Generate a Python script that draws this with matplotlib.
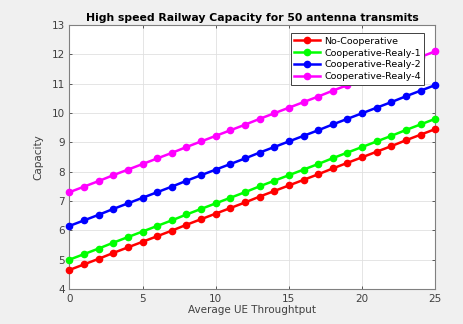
import matplotlib
matplotlib.use("Agg")
import matplotlib.pyplot as plt

x = list(range(26))
no_coop = [4.65, 4.84, 5.03, 5.23, 5.42, 5.61, 5.80, 5.99, 6.19, 6.38, 6.57, 6.76, 6.95,
           7.15, 7.34, 7.53, 7.72, 7.91, 8.11, 8.30, 8.49, 8.68, 8.87, 9.07, 9.26, 9.45]
relay1 = [5.00, 5.19, 5.38, 5.58, 5.77, 5.96, 6.15, 6.34, 6.54, 6.73, 6.92, 7.11, 7.30,
          7.50, 7.69, 7.88, 8.07, 8.26, 8.46, 8.65, 8.84, 9.03, 9.22, 9.42, 9.61, 9.80]
relay2 = [6.15, 6.34, 6.53, 6.73, 6.92, 7.11, 7.30, 7.49, 7.69, 7.88, 8.07, 8.26, 8.45,
          8.65, 8.84, 9.03, 9.22, 9.41, 9.61, 9.80, 9.99, 10.18, 10.37, 10.57, 10.76, 10.95]
relay4 = [7.30, 7.49, 7.68, 7.88, 8.07, 8.26, 8.45, 8.64, 8.84, 9.03, 9.22, 9.41, 9.60,
          9.80, 9.99, 10.18, 10.37, 10.56, 10.76, 10.95, 11.14, 11.33, 11.52, 11.72, 11.91, 12.10]
labels = ["No-Cooperative", "Cooperative-Realy-1", "Cooperative-Realy-2", "Cooperative-Realy-4"]
colors = ["#ff0000", "#00ff00", "#0000ff", "#ff00ff"]
xticks = [0, 5, 10, 15, 20, 25]
yticks = [4, 5, 6, 7, 8, 9, 10, 11, 12, 13]

fig = plt.figure(figsize=(4.63, 3.24), dpi=100, facecolor="#f0f0f0")
ax = fig.add_axes([0.150, 0.108, 0.790, 0.815])
ax.set_facecolor("white")

for ys, lab, c in zip([no_coop, relay1, relay2, relay4], labels, colors):
    ax.plot(x, ys, color=c, marker="o", markersize=4.5, linewidth=1.8, label=lab, clip_on=False, zorder=3)

ax.set_xlim(0, 25)
ax.set_ylim(4, 13)
ax.set_xticks(xticks)
ax.set_yticks(yticks)
ax.grid(True, color="#e0e0e0", linewidth=0.6)
ax.set_axisbelow(True)
for s in ax.spines.values():
    s.set_color("#808080")
    s.set_linewidth(0.8)
ax.tick_params(axis="both", colors="#404040", labelsize=7.5, length=2.5, direction="in", width=0.6)
ax.tick_params(axis="both", which="both", top=True, right=True, labeltop=False, labelright=False)

ax.set_title("High speed Railway Capacity for 50 antenna transmits", fontsize=7.8, fontweight="bold", pad=3)
ax.set_xlabel("Average UE Throughtput", fontsize=7.5, color="#404040", labelpad=1)
ax.set_ylabel("Capacity", fontsize=7.5, color="#404040", labelpad=6)

leg = ax.legend(loc="upper right", bbox_to_anchor=(0.975, 0.975), fontsize=6.8, frameon=True, fancybox=False,
                framealpha=1.0, handlelength=2.8, borderpad=0.35, labelspacing=0.3, handletextpad=0.4,
                borderaxespad=0.2)
leg.get_frame().set_edgecolor("#404040")
leg.get_frame().set_linewidth(0.7)
leg.set_zorder(5)

fig.savefig("out.png", dpi=100, facecolor=fig.get_facecolor())
